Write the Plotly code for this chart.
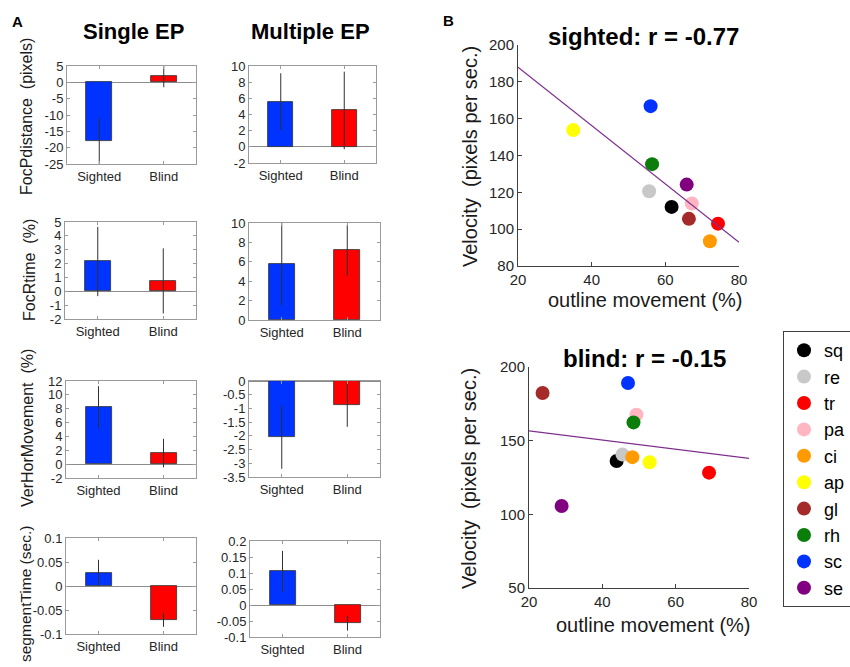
import numpy as np
import plotly.graph_objects as go

W, H = 850, 667

# ---------------- Data: panel A ----------------
categories = ["Sighted", "Blind"]
bar_colors = ["#0033ff", "#ff0000"]

focp_single = [-18.0, 1.8]
focp_single_err = [7.0, 3.3]
focp_multi = [5.6, 4.5]
focp_multi_err = [3.5, 4.8]

focr_single = [2.15, 0.75]
focr_single_err = [2.5, 2.35]
focr_multi = [5.75, 7.2]
focr_multi_err = [4.25, 2.6]

verhor_single = [8.2, 1.6]
verhor_single_err = [3.05, 2.05]
verhor_multi = [-2.05, -0.87]
verhor_multi_err = [1.15, 0.8]

seg_single = [0.0276, -0.071]
seg_single_err = [0.027, 0.014]
seg_multi = [0.105, -0.057]
seg_multi_err = [0.064, 0.023]

ticks_focp_single = [-25, -20, -15, -10, -5, 0, 5]
ticks_focp_multi = [-2, 0, 2, 4, 6, 8, 10]
ticks_focr_single = [-2, -1, 0, 1, 2, 3, 4, 5]
ticks_focr_multi = [0, 2, 4, 6, 8, 10]
ticks_verhor_single = [-2, 0, 2, 4, 6, 8, 10, 12]
ticks_verhor_multi = [-3.5, -3, -2.5, -2, -1.5, -1, -0.5, 0]
ticks_seg_single = [-0.1, -0.05, 0, 0.05, 0.1]
ticks_seg_multi = [-0.1, -0.05, 0, 0.05, 0.1, 0.15, 0.2]

ylabels_a = ["FocPdistance \u00a0(pixels)", "FocRtime \u00a0(%)",
             "VerHorMovement \u00a0(%)", "segmentTime (sec.)"]

# ---------------- Data: panel B ----------------
animal_labels = ["sq", "re", "tr", "pa", "ci", "ap", "gl", "rh", "sc", "se"]
animal_colors = ["#000000", "#c8c8c8", "#ff0000", "#ffb6c1", "#ff9a00",
                 "#ffff00", "#a52a2a", "#0a7d0a", "#0033ff", "#800080"]
sighted_x = [61.7, 55.6, 74.3, 67.2, 72.1, 35.0, 66.4, 56.4, 56.0, 65.8]
sighted_y = [112.1, 120.6, 103.0, 113.9, 93.4, 153.8, 105.6, 135.3, 166.8, 124.2]
blind_x = [43.9, 45.5, 69.1, 49.3, 48.2, 52.9, 23.7, 48.5, 47.0, 28.9]
blind_y = [136.2, 140.6, 128.3, 167.6, 138.8, 135.4, 182.4, 162.4, 189.1, 105.7]
scatter_xticks = [20, 40, 60, 80]
sighted_yticks = [80, 100, 120, 140, 160, 180, 200]
blind_yticks = [50, 100, 150, 200]

# ---------------- Helpers ----------------
def px_x(a, b):
    return [a / W, b / W]

def px_y(top, bottom):
    return [1 - bottom / H, 1 - top / H]

FONT = "Liberation Sans, Arial, sans-serif"
TXT = "#262626"

fig = go.Figure()
layout = {}

bar_panels = [
    # values, errors, ticks, (x0, x1, ytop, ybottom)
    (focp_single, focp_single_err, ticks_focp_single, (67, 196, 66, 164)),
    (focp_multi, focp_multi_err, ticks_focp_multi, (249, 376, 66, 163)),
    (focr_single, focr_single_err, ticks_focr_single, (65, 196, 222, 319)),
    (focr_multi, focr_multi_err, ticks_focr_multi, (249, 380, 223, 320)),
    (verhor_single, verhor_single_err, ticks_verhor_single, (66, 196, 381, 478)),
    (verhor_multi, verhor_multi_err, ticks_verhor_multi, (249, 380, 381, 477)),
    (seg_single, seg_single_err, ticks_seg_single, (66, 196, 538, 634)),
    (seg_multi, seg_multi_err, ticks_seg_multi, (250, 380, 541, 637)),
]

for i, (vals, errs, ticks, (x0, x1, yt, yb)) in enumerate(bar_panels, start=1):
    xa = "x" if i == 1 else f"x{i}"
    ya = "y" if i == 1 else f"y{i}"
    fig.add_trace(go.Bar(
        x=categories, y=vals, width=0.4,
        marker=dict(color=bar_colors, line=dict(color="#303030", width=0.8)),
        error_y=dict(type="data", array=errs, visible=True, width=0,
                     thickness=1, color="#303030"),
        xaxis=xa, yaxis=ya, showlegend=False, hoverinfo="skip",
    ))
    layout["xaxis" if i == 1 else f"xaxis{i}"] = dict(
        domain=px_x(x0, x1), anchor=ya, type="category",
        range=[-0.5, 1.5], showline=True, linecolor="#9a9a9a", linewidth=1,
        mirror="ticks", ticks="inside", ticklen=3, tickcolor="#9a9a9a",
        showgrid=False, zeroline=False,
        tickfont=dict(family=FONT, size=13, color=TXT),
    )
    layout["yaxis" if i == 1 else f"yaxis{i}"] = dict(
        domain=px_y(yt, yb), anchor=xa,
        range=[ticks[0], ticks[-1]], tickvals=ticks,
        ticktext=[f"{t:g}" for t in ticks],
        showline=True, linecolor="#9a9a9a", linewidth=1,
        mirror="ticks", ticks="inside", ticklen=3, tickcolor="#9a9a9a",
        showgrid=False, zeroline=True, zerolinecolor="#8c8c8c", zerolinewidth=1,
        tickfont=dict(family=FONT, size=13, color=TXT),
    )

# ---------------- Panel B scatters ----------------
scatter_panels = [
    (sighted_x, sighted_y, sighted_yticks, (518, 739, 45, 266), True),
    (blind_x, blind_y, blind_yticks, (529, 749, 367, 588), False),
]
for j, (sx, sy, yticks, (x0, x1, yt, yb), show) in enumerate(scatter_panels, start=9):
    xa, ya = f"x{j}", f"y{j}"
    for k, lab in enumerate(animal_labels):
        fig.add_trace(go.Scatter(
            x=[sx[k]], y=[sy[k]], mode="markers", name=lab,
            legendgroup=lab, showlegend=show,
            marker=dict(color=animal_colors[k], size=14, line=dict(width=0)),
            xaxis=xa, yaxis=ya, hoverinfo="skip",
        ))
    slope, icpt = np.polyfit(sx, sy, 1)
    lx = np.array([scatter_xticks[0], scatter_xticks[-1]], dtype=float)
    fig.add_trace(go.Scatter(
        x=lx, y=slope * lx + icpt, mode="lines",
        line=dict(color="#7e2f8e", width=1.2),
        xaxis=xa, yaxis=ya, showlegend=False, hoverinfo="skip",
    ))
    layout[f"xaxis{j}"] = dict(
        domain=px_x(x0, x1), anchor=ya, range=[20, 80], tickvals=scatter_xticks,
        showline=True, linecolor="#404040", linewidth=1, mirror=False,
        ticks="inside", ticklen=4, tickcolor="#404040",
        showgrid=False, zeroline=False,
        tickfont=dict(family=FONT, size=15, color=TXT),
    )
    layout[f"yaxis{j}"] = dict(
        domain=px_y(yt, yb), anchor=xa, range=[yticks[0], yticks[-1]],
        tickvals=yticks, showline=True, linecolor="#404040", linewidth=1,
        mirror=False, ticks="inside", ticklen=4, tickcolor="#404040",
        showgrid=False, zeroline=False,
        tickfont=dict(family=FONT, size=15, color=TXT),
    )

# ---------------- Annotations ----------------
def ann(text, x, y, size, bold=False, angle=0, xanchor="center", yanchor="middle", color="#000000"):
    return dict(text=f"<b>{text}</b>" if bold else text,
                x=x / W, y=1 - y / H, xref="paper", yref="paper",
                showarrow=False, textangle=angle, xanchor=xanchor, yanchor=yanchor,
                font=dict(family=FONT, size=size, color=color))

annotations = [
    ann("A", 17, 22, 15, bold=True),
    ann("B", 449, 21, 15, bold=True),
    ann("Single EP", 133, 31, 22, bold=True),
    ann("Multiple EP", 310, 31, 22, bold=True),
    ann(ylabels_a[0], 27, 117, 16, angle=-90, color="#1a1a1a"),
    ann(ylabels_a[1], 29, 270, 16, angle=-90, color="#1a1a1a"),
    ann(ylabels_a[2], 27, 428, 16, angle=-90, color="#1a1a1a"),
    ann(ylabels_a[3], 25, 524, 15.5, angle=-90, yanchor="top", color="#1a1a1a"),
    ann("sighted: r = -0.77", 643, 37, 24, bold=True),
    ann("blind: r = -0.15", 644, 358, 24, bold=True),
    ann("Velocity \u00a0(pixels per sec.)", 470, 157, 20, angle=-90, color="#1a1a1a"),
    ann("Velocity \u00a0(pixels per sec.)", 469, 479, 20, angle=-90, color="#1a1a1a"),
    ann("outline movement (%)", 645, 300, 20, color="#1a1a1a"),
    ann("outline movement (%)", 653, 625, 20, color="#1a1a1a"),
]

fig.update_layout(
    width=W, height=H,
    margin=dict(l=0, r=0, t=0, b=0, autoexpand=False),
    paper_bgcolor="white", plot_bgcolor="white",
    bargap=0, annotations=annotations,
    legend=dict(x=783 / W, y=1 - 331 / H, xanchor="left", yanchor="top",
                bordercolor="#404040", borderwidth=1, bgcolor="white",
                traceorder="normal", tracegroupgap=0,
                font=dict(family=FONT, size=18, color="#000000")),
    **layout,
)

fig.write_html("out.html",
               config={"displayModeBar": False},
               post_script="document.body.style.margin='0px';document.body.style.overflow='hidden';")
